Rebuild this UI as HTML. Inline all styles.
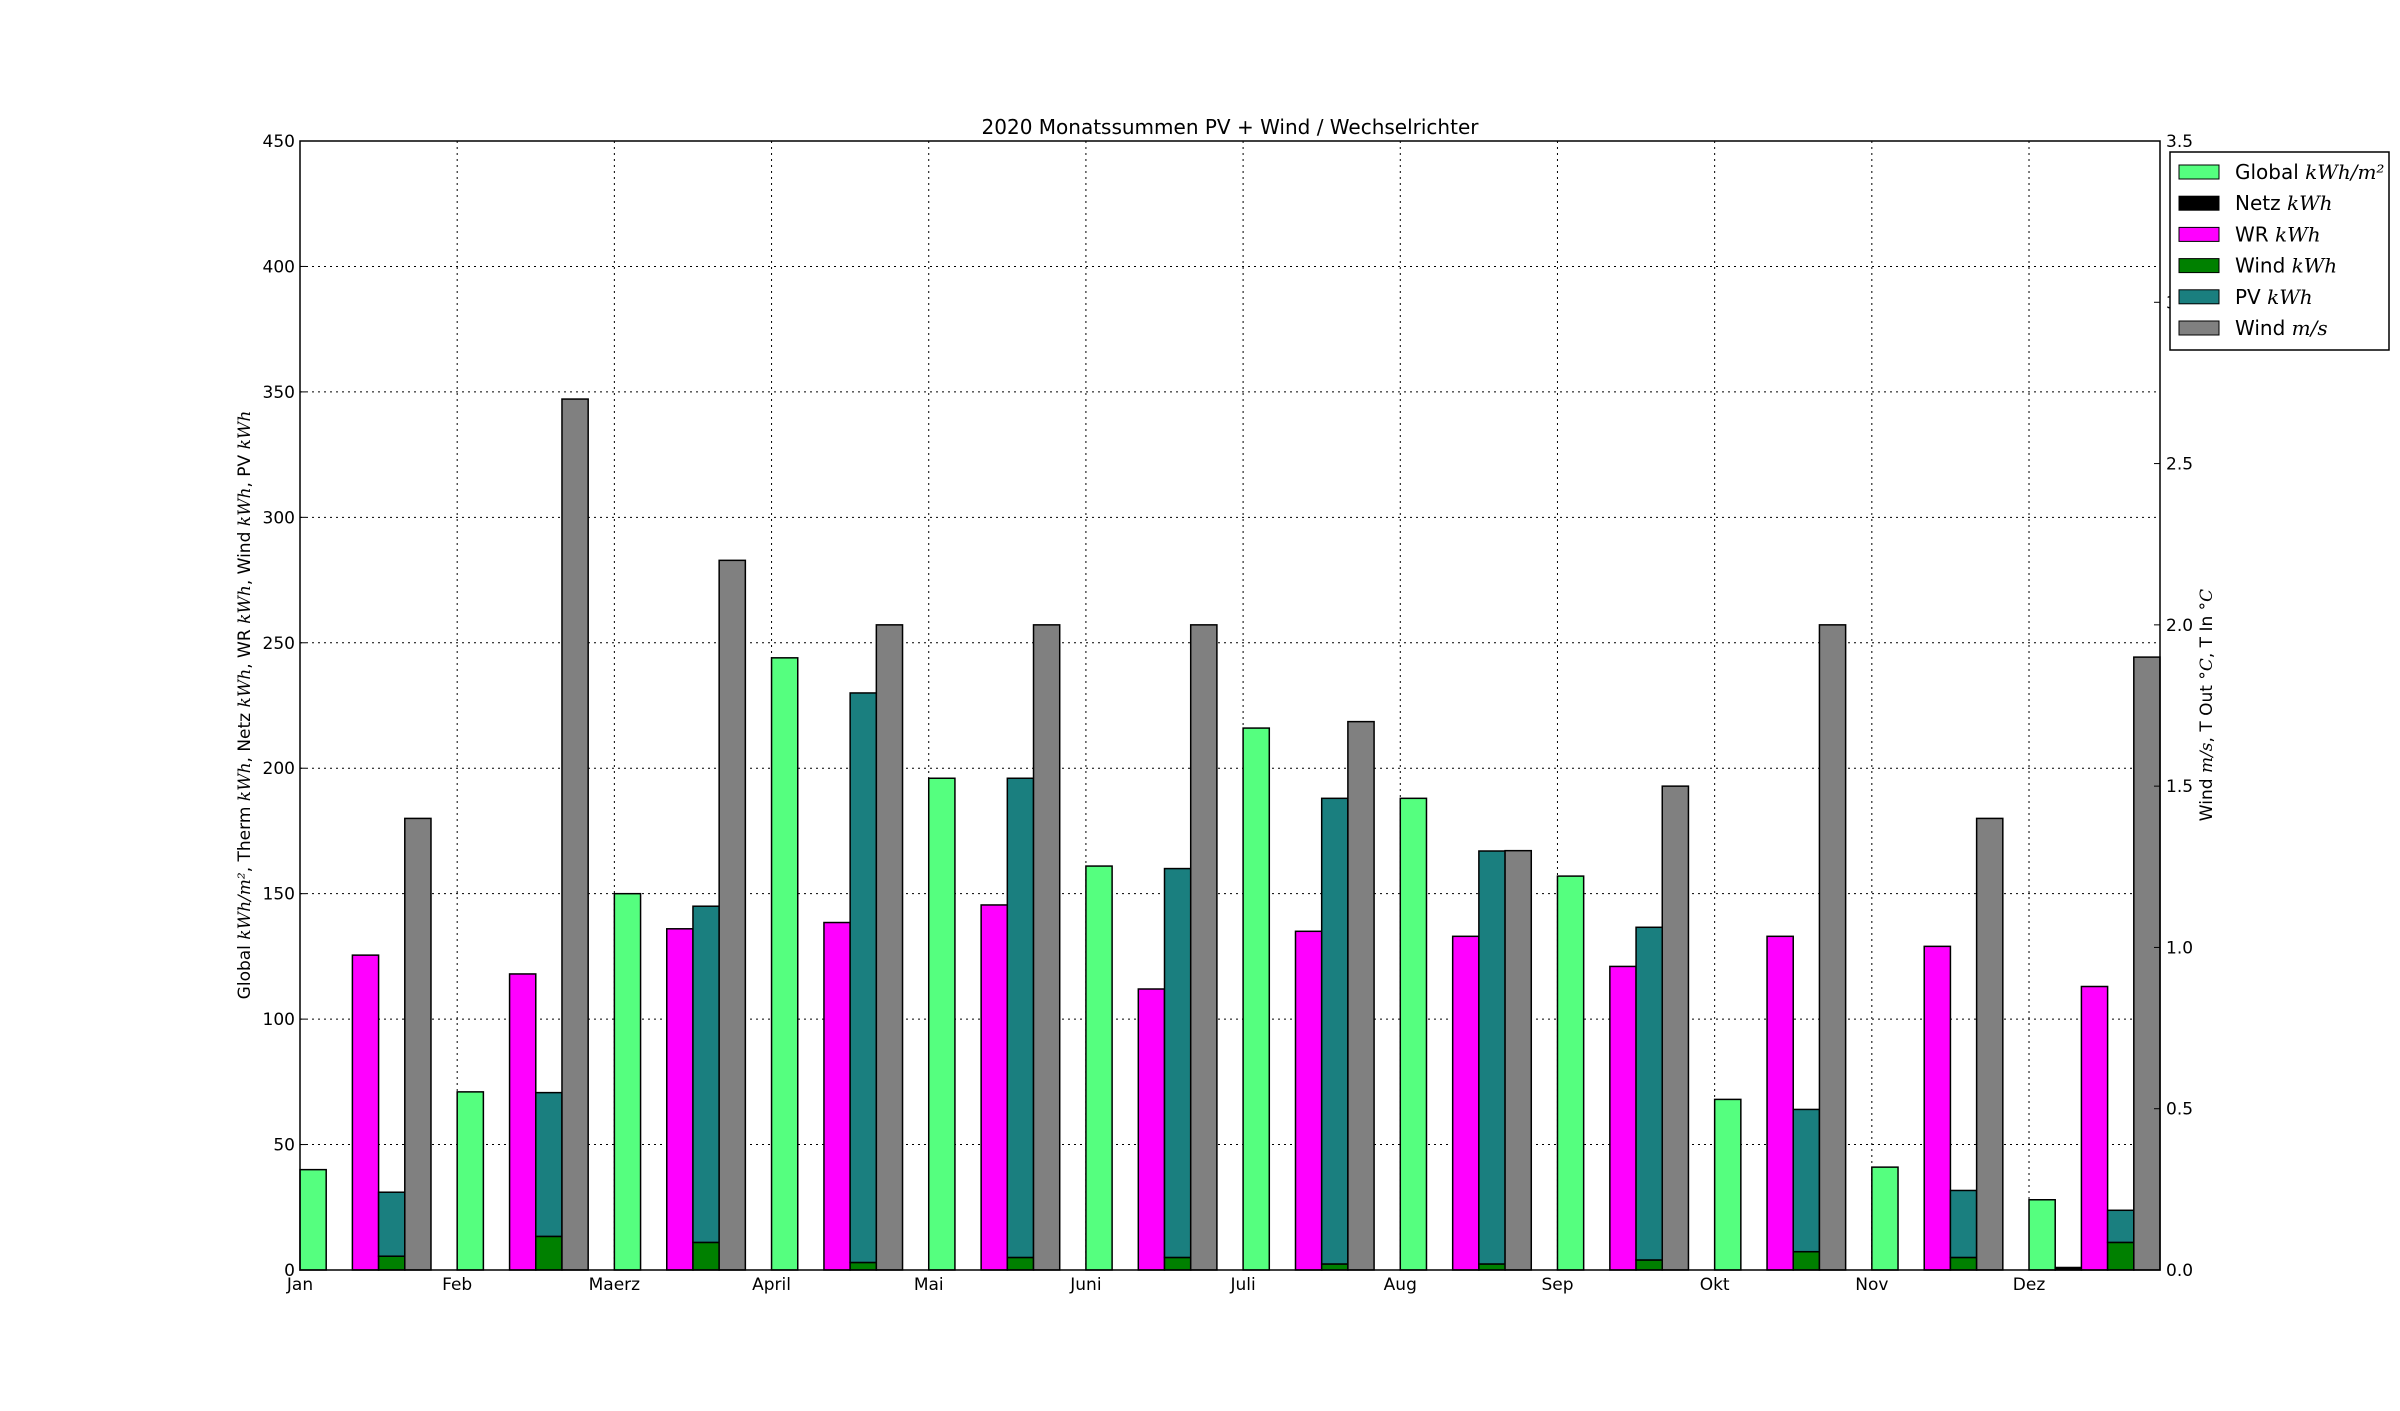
<!DOCTYPE html>
<html><head><meta charset="utf-8"><style>
body{margin:0;background:#fff}
svg{display:block;font-family:"DejaVu Sans","Liberation Sans",sans-serif}
.m{font-family:"DejaVu Serif","Liberation Serif",serif;font-style:italic}
</style></head><body>
<svg id="chart" width="2400" height="1411" viewBox="0 0 2400 1411" xmlns="http://www.w3.org/2000/svg">
<rect width="2400" height="1411" fill="#fff"/>
<g id="grid"></g><g id="bars"></g><g id="axes"></g>
<text x="1230" y="134" font-size="20" text-anchor="middle">2020 Monatssummen PV + Wind / Wechselrichter</text>
<text transform="translate(250,705) rotate(-90)" font-size="17" text-anchor="middle">Global <tspan class="m">kWh/m²</tspan>, Therm <tspan class="m">kWh</tspan>, Netz <tspan class="m">kWh</tspan>, WR <tspan class="m">kWh</tspan>, Wind <tspan class="m">kWh</tspan>, PV <tspan class="m">kWh</tspan></text>
<text transform="translate(2212,705) rotate(-90)" font-size="17" text-anchor="middle">Wind <tspan class="m">m/s</tspan>, T Out <tspan class="m">°C</tspan>, T In <tspan class="m">°C</tspan></text>
<g id="legend"></g>
</svg>
<script>
const months=["Jan","Feb","Maerz","April","Mai","Juni","Juli","Aug","Sep","Okt","Nov","Dez"];
const globalVals=[40,71,150,244,196,161,216,188,157,68,41,28];
const netzVals=[0,0,0,0,0,0,0,0,0,0,0,1];
const wrVals=[125.5,118,136,138.5,145.5,112,135,133,121,133,129,113];
const windKwh=[5.5,13.4,11,3,5,5,2.4,2.4,4,7.3,5,11];
const pvVals=[25.5,57.3,134,227,191,155,185.6,164.6,132.6,56.7,26.7,12.8];
const windMs=[1.4,2.7,2.2,2.0,2.0,2.0,1.7,1.3,1.5,2.0,1.4,1.9];
const leftTicks=[0,50,100,150,200,250,300,350,400,450];
const rightTicks=[0,0.5,1.0,1.5,2.0,2.5,3.0,3.5];
const L=300,R=2160,T=141,B=1270,XMAX=11+5/6,YMAX=450,Y2MAX=3.5,W=1/6;
const ns="http://www.w3.org/2000/svg";
const X=v=>L+(R-L)*v/XMAX, Y=v=>B-(B-T)*v/YMAX, Y2=v=>B-(B-T)*v/Y2MAX;
function mk(p,tag,a){const e=document.createElementNS(ns,tag);for(const k in a)e.setAttribute(k,a[k]);p.appendChild(e);return e;}
const grid=document.getElementById('grid'),bars=document.getElementById('bars'),axes=document.getElementById('axes');
leftTicks.forEach(t=>{
 if(t>0&&t<YMAX){const g=mk(grid,'line',{x1:L,x2:R,y1:Y(t),y2:Y(t),stroke:'#000','stroke-width':1,'stroke-dasharray':'2,4'});
 
 }
 mk(axes,'line',{x1:L,x2:L+6,y1:Y(t),y2:Y(t),stroke:'#000'});
 const tx=mk(axes,'text',{x:L-5,y:Y(t)+6,'font-size':17,'text-anchor':'end'});tx.textContent=t;
 
 
});
rightTicks.forEach(t=>{
 mk(axes,'line',{x1:R-6,x2:R,y1:Y2(t),y2:Y2(t),stroke:'#000'});
 const tx=mk(axes,'text',{x:R+6,y:Y2(t)+6,'font-size':17});tx.textContent=t.toFixed(1);
 
 
});
months.forEach((m,i)=>{
 if(i>0){const g=mk(grid,'line',{x1:X(i),x2:X(i),y1:T,y2:B,stroke:'#000','stroke-width':1,'stroke-dasharray':'2,4'});
 
 }
 const tx=mk(axes,'text',{x:X(i),y:B+20,'font-size':17,'text-anchor':'middle'});tx.textContent=m;
 
 
});
function bar(x0,v0,v1,scale,fill,name){
 if(v1<=v0)return;
 const r=mk(bars,'rect',{x:X(x0),y:scale(v1),width:X(x0+W)-X(x0),height:scale(v0)-scale(v1),fill:fill,stroke:'#000','stroke-width':1.5});
 
 
}
months.forEach((m,i)=>{
 bar(i,0,globalVals[i],Y,'#55ff7f','bar-global-'+i);
 bar(i+W,0,netzVals[i],Y,'#000','bar-netz-'+i);
 bar(i+2*W,0,wrVals[i],Y,'#ff00ff','bar-wr-'+i);
 bar(i+3*W,0,windKwh[i],Y,'#008000','bar-wind-kwh-'+i);
 bar(i+3*W,windKwh[i],windKwh[i]+pvVals[i],Y,'#1a7f7f','bar-pv-'+i);
 bar(i+4*W,0,windMs[i],Y2,'#808080','bar-wind-ms-'+i);
});
const fr=mk(axes,'rect',{x:L,y:T,width:R-L,height:B-T,fill:'none',stroke:'#000','stroke-width':1.5});


const lg=document.getElementById('legend');
mk(lg,'rect',{x:2170,y:152,width:219,height:198,fill:'#fff',stroke:'#000','stroke-width':1.5});
const items=[["#55ff7f","Global ","kWh/m²"],["#000","Netz ","kWh"],["#ff00ff","WR ","kWh"],["#008000","Wind ","kWh"],["#1a7f7f","PV ","kWh"],["#808080","Wind ","m/s"]];
items.forEach((it,k)=>{
 const y=172+k*31.2;
 const s=mk(lg,'rect',{x:2179,y:y-7,width:40,height:14,fill:it[0],stroke:'#000','stroke-width':1});
 
 
 const t=mk(lg,'text',{x:2235,y:y+7,'font-size':20});
 
 
 t.appendChild(document.createTextNode(it[1]));
 const sp=mk(t,'tspan',{class:'m'});sp.textContent=it[2];
});
</script>
</body></html>
